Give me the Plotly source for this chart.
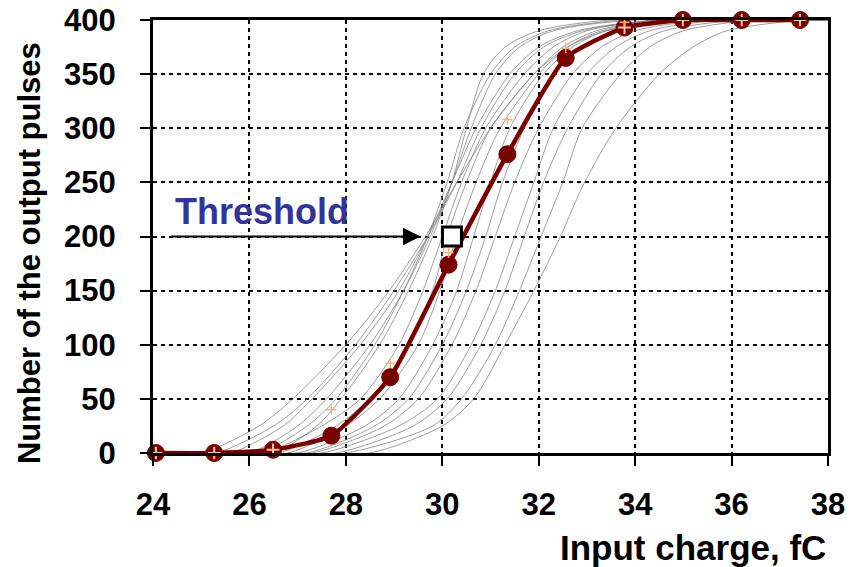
import plotly.graph_objects as go

# ---------------- data ----------------
red_x = [24.06, 25.27, 26.49, 27.70, 28.92, 30.13, 31.35, 32.56, 33.78, 34.99, 36.21, 37.42]
red_y = [0, 0, 3, 16, 70, 174, 276, 365, 393, 400, 400, 400]
cross_idx = [0, 1, 2, 8, 9, 10, 11]

orange_x = [27.70, 28.92, 30.13, 31.35, 32.56, 33.78]
orange_y = [40, 83, 185, 308, 374, 398]

gray_levels = [0, 0, 25, 50, 100, 150, 200, 250, 300, 350, 375, 390, 400, 400]
gray_curves_x = [
    [24.3, 25.0, 26.2, 26.9, 28.0, 28.9, 29.65, 30.3, 31.0, 31.9, 32.6, 33.4, 35.0, 38.0],
    [24.8, 25.6, 26.7, 27.3, 28.3, 29.1, 29.70, 30.2, 30.7, 31.4, 32.0, 32.8, 34.5, 38.0],
    [25.2, 26.0, 27.0, 27.6, 28.5, 29.2, 29.75, 30.2, 30.6, 31.1, 31.6, 32.3, 34.0, 38.0],
    [25.6, 26.5, 27.4, 27.9, 28.7, 29.3, 29.80, 30.2, 30.5, 30.85, 31.3, 32.0, 33.5, 38.0],
    [25.4, 26.3, 27.5, 28.3, 29.1, 29.6, 30.00, 30.4, 30.9, 31.7, 32.3, 33.0, 34.5, 38.0],
    [25.6, 26.6, 27.8, 28.5, 29.3, 29.8, 30.10, 30.5, 31.0, 31.9, 32.5, 33.2, 34.5, 38.0],
    [25.8, 26.8, 28.0, 28.7, 29.5, 29.95, 30.30, 30.7, 31.2, 32.0, 32.6, 33.3, 34.8, 38.0],
    [26.0, 27.0, 28.4, 29.1, 29.8, 30.3, 30.65, 31.0, 31.4, 32.1, 32.7, 33.4, 35.0, 38.0],
    [26.3, 27.3, 28.8, 29.5, 30.2, 30.7, 31.10, 31.5, 32.0, 32.7, 33.3, 34.0, 35.5, 38.0],
    [26.5, 27.5, 29.1, 29.9, 30.6, 31.1, 31.50, 31.9, 32.3, 33.0, 33.6, 34.3, 35.8, 38.0],
    [26.8, 27.8, 29.4, 30.1, 30.8, 31.3, 31.70, 32.1, 32.6, 33.3, 33.9, 34.6, 36.2, 38.0],
    [27.0, 28.0, 29.8, 30.4, 31.1, 31.6, 32.05, 32.5, 32.9, 33.7, 34.3, 35.0, 36.5, 38.0],
    [27.5, 28.5, 30.0, 30.65, 31.3, 31.9, 32.45, 32.95, 33.6, 34.5, 35.2, 35.9, 37.5, 38.0],
    [24.5, 25.3, 26.5, 27.2, 28.2, 29.0, 29.70, 30.3, 30.8, 31.5, 32.1, 32.9, 34.5, 38.0],
    [25.3, 26.2, 27.2, 27.8, 28.6, 29.2, 29.70, 30.1, 30.45, 31.0, 31.5, 32.2, 33.8, 38.0],
    [26.2, 27.2, 28.6, 29.3, 30.0, 30.5, 30.90, 31.25, 31.7, 32.3, 32.9, 33.6, 35.2, 38.0],
]

threshold_x = [30.2]
threshold_y = [200]

x_ticks = [24, 26, 28, 30, 32, 34, 36, 38]
y_ticks = [0, 50, 100, 150, 200, 250, 300, 350, 400]

FONT = "Liberation Sans, Arial, sans-serif"

# ---------------- figure ----------------
fig = go.Figure()

for cx in gray_curves_x:
    fig.add_trace(go.Scatter(
        x=cx, y=gray_levels, mode="lines",
        line=dict(color="rgba(125,125,125,0.75)", width=1, shape="spline", smoothing=0.8),
        hoverinfo="skip", showlegend=False))

fig.add_trace(go.Scatter(
    x=red_x, y=red_y, mode="lines+markers",
    line=dict(color="#7a0000", width=4.5, shape="spline", smoothing=0.5),
    marker=dict(symbol="circle", size=17, color="#7a0000", line=dict(color="#7a0000", width=1)),
    cliponaxis=False, showlegend=False))

fig.add_trace(go.Scatter(
    x=[red_x[i] for i in cross_idx], y=[red_y[i] for i in cross_idx], mode="markers",
    marker=dict(symbol="cross-thin", size=9, line=dict(color="#f6c8a0", width=2)),
    cliponaxis=False, showlegend=False))

fig.add_trace(go.Scatter(
    x=orange_x, y=orange_y, mode="markers",
    marker=dict(symbol="cross-thin", size=7, line=dict(color="#f4b27a", width=1.5)),
    showlegend=False))

fig.add_trace(go.Scatter(
    x=threshold_x, y=threshold_y, mode="markers",
    marker=dict(symbol="square", size=19, color="white", line=dict(color="black", width=3)),
    cliponaxis=False, showlegend=False))

fig.add_annotation(
    x=29.55, y=200, ax=24.35, ay=200, xref="x", yref="y", axref="x", ayref="y",
    showarrow=True, arrowhead=2, arrowsize=1.6, arrowwidth=2.2, arrowcolor="black", text="")

fig.add_annotation(
    x=24.42, y=223, xref="x", yref="y", xanchor="left", yanchor="middle",
    text="<b>Threshold</b>", showarrow=False,
    font=dict(family=FONT, size=36, color="#333399"))

fig.add_annotation(
    x=1.0, y=-0.219, xref="paper", yref="paper", xanchor="right", yanchor="middle",
    text="<b>Input charge, fC</b>", showarrow=False,
    font=dict(family=FONT, size=35, color="black"))

fig.add_annotation(
    x=-0.182, y=0.462, xref="paper", yref="paper", xanchor="center", yanchor="middle",
    text="<b>Number of the output pulses</b>", showarrow=False, textangle=-90,
    font=dict(family=FONT, size=31, color="black"))

axis_font = dict(family=FONT, size=31, color="black")

fig.update_xaxes(
    range=[24, 38], tickvals=x_ticks, ticktext=[f"<b>{v}</b>" for v in x_ticks],
    tickfont=axis_font, ticks="outside", ticklen=10, tickwidth=2, tickcolor="black",
    showline=True, linecolor="black", linewidth=3, mirror=True,
    showgrid=True, gridcolor="black", gridwidth=1.5, griddash="4px,4px",
    zeroline=False, ticklabelstandoff=12, automargin=False)

fig.update_yaxes(
    range=[0, 400], tickvals=y_ticks, ticktext=[f"<b>{v}</b>" for v in y_ticks],
    tickfont=axis_font, ticks="outside", ticklen=10, tickwidth=2, tickcolor="black",
    showline=True, linecolor="black", linewidth=3, mirror=True,
    showgrid=True, gridcolor="black", gridwidth=1.5, griddash="4px,4px",
    zeroline=False, ticklabelstandoff=18, automargin=False)

fig.update_layout(
    width=863, height=567,
    margin=dict(l=153, r=35, t=20, b=114),
    paper_bgcolor="white", plot_bgcolor="white",
    showlegend=False)

fig.write_html("out.html")
